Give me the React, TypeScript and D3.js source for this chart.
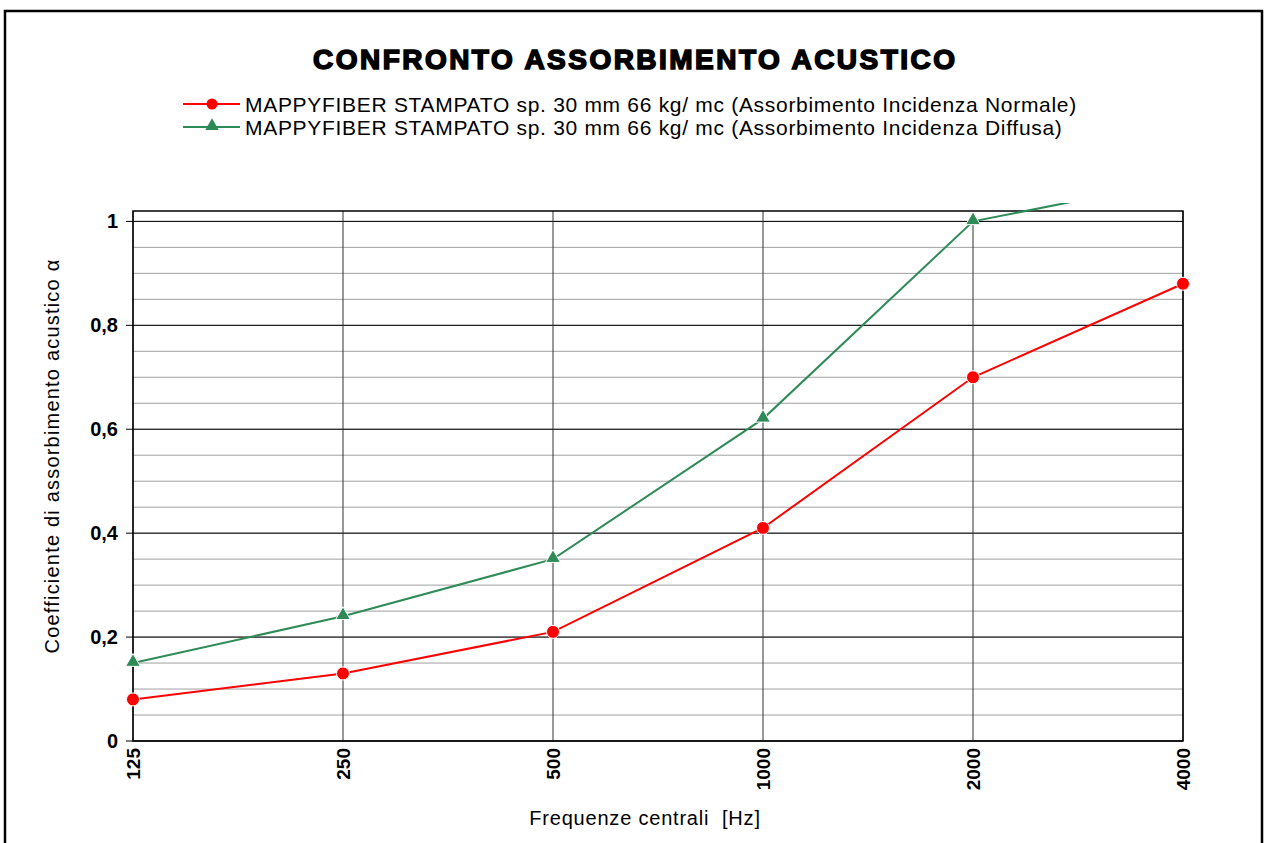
import { useEffect, useRef } from 'react';
import * as d3 from 'd3';

const frequencies = ['125', '250', '500', '1000', '2000', '4000'];
const normalValues = [0.08, 0.13, 0.21, 0.41, 0.7, 0.88];
const diffuseValues = [0.15, 0.24, 0.35, 0.62, 1.0, 1.08];
const yTicks = [0, 0.2, 0.4, 0.6, 0.8, 1];
const minorTicks = d3.range(0, 1.01, 0.05);
const seriesNames = [
  'MAPPYFIBER STAMPATO sp. 30 mm 66 kg/ mc (Assorbimento Incidenza Normale)',
  'MAPPYFIBER STAMPATO sp. 30 mm 66 kg/ mc (Assorbimento Incidenza Diffusa)',
];

const W = 1265;
const H = 843;
const FONT = 'Liberation Sans, Arial, sans-serif';

const App = () => {
  const svgRef = useRef<SVGSVGElement>(null);

  useEffect(() => {
    if (!svgRef.current) return;
    const svg = d3.select(svgRef.current);
    svg.selectAll('*').remove();

    const left = 133, right = 1183, top = 211, bottom = 741;
    const x = d3.scalePoint<string>().domain(frequencies).range([left, right]);
    const y = d3.scaleLinear().domain([0, 1.02]).range([bottom, top]);

    // outer frame
    svg.append('rect')
      .attr('x', 5).attr('y', 11).attr('width', 1257).attr('height', 900)
      .attr('fill', 'white').attr('stroke', '#000').attr('stroke-width', 2.5);

    // clip for lines (a bit above the plot area)
    svg.append('defs').append('clipPath').attr('id', 'clip')
      .append('rect').attr('x', 0).attr('y', 203).attr('width', W).attr('height', 700);

    // minor gridlines
    svg.append('g').selectAll('line')
      .data(minorTicks)
      .join('line')
      .attr('x1', left).attr('x2', right)
      .attr('y1', d => y(d)).attr('y2', d => y(d))
      .attr('stroke', '#a0a0a0').attr('stroke-width', 1);

    // major gridlines
    svg.append('g').selectAll('line')
      .data(yTicks)
      .join('line')
      .attr('x1', left - 7).attr('x2', right)
      .attr('y1', d => y(d)).attr('y2', d => y(d))
      .attr('stroke', '#000').attr('stroke-width', 1);

    // vertical gridlines
    svg.append('g').selectAll('line')
      .data(frequencies)
      .join('line')
      .attr('x1', d => x(d)!).attr('x2', d => x(d)!)
      .attr('y1', top).attr('y2', bottom)
      .attr('stroke', '#333').attr('stroke-width', 1);

    // plot border
    svg.append('rect')
      .attr('x', left).attr('y', top).attr('width', right - left).attr('height', bottom - top)
      .attr('fill', 'none').attr('stroke', '#000').attr('stroke-width', 1.5);

    // y tick labels
    svg.append('g').selectAll('text')
      .data(yTicks)
      .join('text')
      .attr('x', 118).attr('y', d => y(d) + 7)
      .attr('text-anchor', 'end')
      .attr('font-family', FONT)
      .attr('font-weight', 'bold').attr('font-size', 20)
      .text(d => d3.format('.1~f')(d).replace('.', ','));

    // x tick labels
    svg.append('g').selectAll('text')
      .data(frequencies)
      .join('text')
      .attr('transform', d => `translate(${x(d)! + 7},${bottom + 7}) rotate(-90)`)
      .attr('text-anchor', 'end')
      .attr('font-family', FONT)
      .attr('font-weight', 'bold').attr('font-size', 19)
      .text(d => d);

    const line = d3.line<number>()
      .x((_, i) => x(frequencies[i])!)
      .y(d => y(d));

    const plot = svg.append('g').attr('clip-path', 'url(#clip)');

    plot.append('path').datum(diffuseValues)
      .attr('fill', 'none').attr('stroke', '#2e8b57').attr('stroke-width', 2)
      .attr('d', line);
    plot.append('path').datum(normalValues)
      .attr('fill', 'none').attr('stroke', '#ff0000').attr('stroke-width', 2)
      .attr('d', line);

    const tri = d3.symbol().type(d3.symbolTriangle).size(95);
    plot.append('g').selectAll('path')
      .data(diffuseValues.filter(v => v <= 1.02))
      .join('path')
      .attr('d', tri)
      .attr('transform', (d, i) => `translate(${x(frequencies[i])},${y(d) - 1})`)
      .attr('fill', '#2e8b57').attr('stroke', 'white').attr('stroke-width', 1);

    plot.append('g').selectAll('circle')
      .data(normalValues)
      .join('circle')
      .attr('cx', (_, i) => x(frequencies[i])!)
      .attr('cy', d => y(d))
      .attr('r', 6.5)
      .attr('fill', '#ff0000').attr('stroke', 'white').attr('stroke-width', 1);

    // title
    svg.append('text')
      .attr('x', 313).attr('y', 69)
      .attr('font-family', FONT)
      .attr('font-weight', 'bold').attr('font-size', 28)
      .attr('stroke', '#000').attr('stroke-width', 1.6)
      .attr('textLength', 642).attr('lengthAdjust', 'spacing')
      .text('CONFRONTO ASSORBIMENTO ACUSTICO');

    // legend
    const legend = svg.append('g').selectAll('g')
      .data(seriesNames)
      .join('g')
      .attr('transform', (_, i) => `translate(183,${104 + i * 23})`);
    legend.append('line')
      .attr('x1', 0).attr('x2', 57).attr('y1', 0).attr('y2', 0)
      .attr('stroke', (_, i) => (i === 0 ? '#ff0000' : '#2e8b57')).attr('stroke-width', 2);
    legend.filter((_, i) => i === 0).append('circle')
      .attr('cx', 29).attr('cy', 0).attr('r', 5.5).attr('fill', '#ff0000');
    legend.filter((_, i) => i === 1).append('path')
      .attr('d', d3.symbol().type(d3.symbolTriangle).size(80))
      .attr('transform', 'translate(29,-1)').attr('fill', '#2e8b57');
    legend.append('text')
      .attr('x', 62).attr('y', 8)
      .attr('font-family', FONT)
      .attr('font-size', 21)
      .attr('letter-spacing', 0.7)
      .text(d => d);

    // axis titles
    svg.append('text')
      .attr('x', 645).attr('y', 825)
      .attr('text-anchor', 'middle')
      .attr('font-family', FONT)
      .attr('font-size', 20)
      .attr('letter-spacing', 0.8)
      .style('white-space', 'pre')
      .text('Frequenze centrali  [Hz]');

    svg.append('text')
      .attr('transform', 'translate(59,456) rotate(-90)')
      .attr('text-anchor', 'middle')
      .attr('font-family', FONT)
      .attr('font-size', 20)
      .attr('letter-spacing', 1.2)
      .text('Coefficiente di assorbimento acustico α');
  }, []);

  return <svg ref={svgRef} width={W} height={H} style={{ position: 'absolute', left: 0, top: 0 }} />;
};

export default App;
